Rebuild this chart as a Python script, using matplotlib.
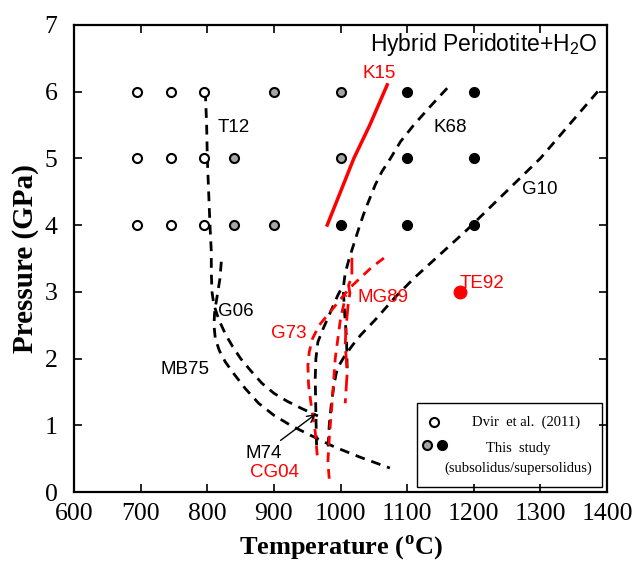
import matplotlib
matplotlib.use("Agg")
import matplotlib.pyplot as plt
from matplotlib.patches import Rectangle

plt.rcParams['font.family'] = ['Liberation Serif', 'DejaVu Sans']
plt.rcParams['mathtext.fontset'] = 'custom'
plt.rcParams['mathtext.rm'] = 'Liberation Sans'
plt.rcParams['mathtext.bf'] = 'Liberation Serif:bold'

# experiment points (temperature C, pressure GPa)
dvir_T = [695, 745, 795, 695, 745, 795, 695, 745, 795]
dvir_P = [6, 6, 6, 5, 5, 5, 4, 4, 4]
sub_T = [900, 1000, 840, 1000, 840, 900]
sub_P = [6, 6, 5, 5, 4, 4]
super_T = [1100, 1200, 1100, 1200, 1000, 1100, 1200]
super_P = [6, 6, 5, 5, 4, 4, 4]
te92_T = [1180]
te92_P = [3.0]

# solidus curves
t12_T = [797, 799, 800, 802, 804, 806, 806, 807, 810, 815, 821, 828, 838, 850, 865, 882, 900, 920, 942, 966]
t12_P = [6.0, 5.5, 5.0, 4.5, 4.0, 3.6, 3.3, 3.0, 2.8, 2.65, 2.5, 2.35, 2.18, 2.0, 1.82, 1.63, 1.48, 1.36, 1.25, 1.14]
g06_T = [821, 819, 815, 811, 810, 812, 818, 827, 840, 857, 877, 900, 925, 955, 990, 1030, 1074]
g06_P = [3.45, 3.2, 2.95, 2.7, 2.5, 2.3, 2.12, 1.95, 1.77, 1.55, 1.33, 1.15, 1.0, 0.85, 0.68, 0.52, 0.36]
k68_T = [1160, 1135, 1110, 1090, 1075, 1062, 1052, 1037, 1029, 1022, 1013, 1007, 1004, 1006, 1009, 1010]
k68_P = [6.05, 5.78, 5.5, 5.25, 5.0, 4.8, 4.6, 4.23, 4.0, 3.78, 3.5, 3.28, 3.05, 2.7, 2.3, 1.8]
g10_T = [1386, 1300, 1190, 1112, 1082, 1052, 1030, 1018, 1005, 995, 990, 986, 983, 981]
g10_P = [6.0, 5.0, 3.93, 3.22, 2.92, 2.58, 2.35, 2.2, 2.02, 1.85, 1.6, 1.3, 1.0, 0.6]
m74_T = [964, 963, 962, 963, 966, 974, 985, 996, 1004]
m74_P = [0.7, 1.15, 1.71, 2.0, 2.25, 2.45, 2.7, 2.95, 3.1]
k15_T = [980, 1000, 1020, 1044, 1070]
k15_P = [4.0, 4.5, 5.0, 5.5, 6.1]
g73_T = [965, 962, 956, 952, 951, 953, 958, 968, 987, 1014, 1047, 1067]
g73_P = [0.55, 0.9, 1.3, 1.6, 1.9, 2.1, 2.3, 2.5, 2.73, 3.06, 3.37, 3.52]
mg89_T = [1017, 1017, 1012, 1014, 1011, 1008, 1007, 1010, 1007]
mg89_P = [3.51, 3.22, 3.1, 2.98, 2.77, 2.43, 2.2, 1.8, 1.33]
cg04_T = [983, 981, 983, 987, 992, 1000, 1008]
cg04_P = [0.2, 0.45, 0.8, 1.3, 2.0, 2.6, 2.95]

red = '#ff0000'
sans = ['Liberation Sans', 'DejaVu Sans']

fig = plt.figure(figsize=(6.33, 5.63), dpi=100)
ax = fig.add_axes([0.117, 0.126, 0.842, 0.830])

dash = (3.5, 2.5)
for T, P in [(t12_T, t12_P), (g06_T, g06_P), (k68_T, k68_P), (g10_T, g10_P), (m74_T, m74_P)]:
    ax.plot(T, P, color='black', lw=2.0, dashes=dash)
ax.plot(g73_T, g73_P, color=red, lw=2.0, dashes=dash)
ax.plot(cg04_T, cg04_P, color=red, lw=2.0, dashes=dash)
ax.plot(mg89_T, mg89_P, color=red, lw=2.0, dashes=(6, 2.5))
ax.plot(k15_T, k15_P, color=red, lw=2.5)

ax.plot(dvir_T, dvir_P, 'o', mfc='white', mec='black', mew=1.5, ms=6.5, ls='none')
ax.plot(sub_T, sub_P, 'o', mfc='#a6a6a6', mec='black', mew=1.5, ms=6.5, ls='none')
ax.plot(super_T, super_P, 'o', mfc='black', mec='black', ms=7, ls='none')
ax.plot(te92_T, te92_P, 'o', color=red, ms=9, ls='none')

# labels
fs = 13.5
ax.text(816, 5.46, 'T12', fontsize=fs, family=sans, va='center')
ax.text(1139, 5.46, 'K68', fontsize=fs, family=sans, va='center')
ax.text(1272, 4.53, 'G10', fontsize=fs, family=sans, va='center')
ax.text(1033, 6.27, 'K15', fontsize=fs, family=sans, va='center', color=red)
ax.text(1178, 3.13, 'TE92', fontsize=fs, family=sans, va='center', color=red)
ax.text(1026, 2.92, 'MG89', fontsize=fs, family=sans, va='center', color=red)
ax.text(896, 2.38, 'G73', fontsize=fs, family=sans, va='center', color=red)
ax.text(816, 2.70, 'G06', fontsize=fs, family=sans, va='center')
ax.text(729, 1.83, 'MB75', fontsize=fs, family=sans, va='center')
ax.text(864, 0.30, 'CG04', fontsize=fs, family=sans, va='center', color=red)
ax.annotate('M74', xy=(963, 1.17), xytext=(884, 0.58), fontsize=fs, family=sans,
            ha='center', va='center',
            arrowprops=dict(arrowstyle='->', color='black', lw=1.0, shrinkA=2, shrinkB=0))
ax.text(1385, 6.70, 'Hybrid Peridotite+H$_2$O', fontsize=16.5, family=sans,
        ha='right', va='center')

# legend box
ax.add_patch(Rectangle((0.6435, 0.0107), 0.347, 0.18, transform=ax.transAxes,
                       fill=False, edgecolor='black', lw=1.0, zorder=5))
ax.plot([0.675], [0.150], 'o', mfc='white', mec='black', mew=1.5, ms=6.5, transform=ax.transAxes)
ax.plot([0.662], [0.1006], 'o', mfc='#a6a6a6', mec='black', mew=1.5, ms=6.5, transform=ax.transAxes)
ax.plot([0.690], [0.1006], 'o', mfc='black', mec='black', ms=7, transform=ax.transAxes)
ax.text(0.848, 0.150, 'Dvir  et al.  (2011)', transform=ax.transAxes, fontsize=10.5,
        ha='center', va='center')
ax.text(0.833, 0.094, 'This  study', transform=ax.transAxes, fontsize=10.5,
        ha='center', va='center')
ax.text(0.833, 0.051, '(subsolidus/supersolidus)', transform=ax.transAxes, fontsize=10.5,
        ha='center', va='center')

ax.set_xlim(600, 1400)
ax.set_ylim(0, 7)
ax.set_xticks(range(600, 1401, 100))
ax.set_yticks(range(0, 8))
ax.tick_params(direction='in', top=True, right=True, length=6, width=1.2, labelsize=18.5)
ax.tick_params(axis='x', pad=8)
ax.tick_params(axis='y', pad=12)
for s in ax.spines.values():
    s.set_linewidth(1.6)

ax.set_xlabel('Temperature (' + r'$^{\mathbf{o}}$' + 'C)', fontsize=19, fontweight='bold', labelpad=6)
ax.set_ylabel('Pressure (GPa)', fontsize=21, fontweight='bold', labelpad=4)

fig.savefig('out.png', dpi=100)
